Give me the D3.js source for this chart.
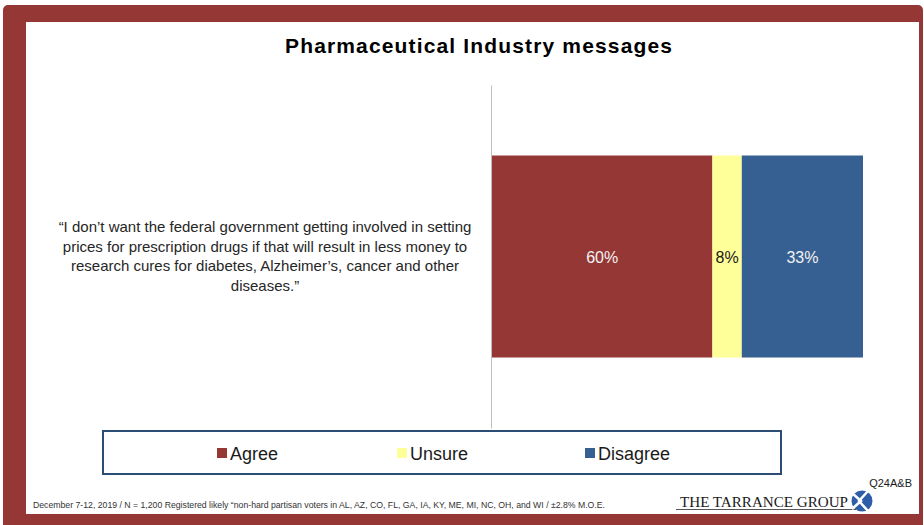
<!DOCTYPE html>
<html>
<head>
<meta charset="utf-8">
<script src="https://cdn.jsdelivr.net/npm/d3@7"></script>
<style>
  body { margin: 0; background: #fff; }
  svg { display: block; }
</style>
</head>
<body>
<div id="main"></div>
<script>
'use strict';

// data
const categories = ['Agree', 'Unsure', 'Disagree'];
const values = [60, 8, 33];
const colors = ['#953735', '#ffff99', '#376092'];
const labelColors = ['#f2f2f2', '#1a1a1a', '#f2f2f2'];
const statementLines = [
  '\u201cI don\u2019t want the federal government getting involved in setting',
  'prices for prescription drugs if that will result in less money to',
  'research cures for diabetes, Alzheimer\u2019s, cancer and other',
  'diseases.\u201d'
];
const title = 'Pharmaceutical Industry messages';
const footnote = 'December 7-12, 2019 / N = 1,200 Registered likely \u201cnon-hard partisan voters in AL, AZ, CO, FL, GA, IA, KY, ME, MI, NC, OH, and WI / \u00b12.8% M.O.E.';
const questionId = 'Q24A&B';

// configuration
const canvas = { width: 924, height: 525 };
const plot = { left: 492, right: 863, axisTop: 85, axisBottom: 428 };

const svg = d3.select('#main')
  .append('svg')
  .attr('width', canvas.width)
  .attr('height', canvas.height);

// frame
svg.append('rect')
  .attr('x', 3).attr('y', 5)
  .attr('width', 920).attr('height', 530)
  .attr('rx', 5)
  .attr('fill', '#953735');
svg.append('rect')
  .attr('x', 26).attr('y', 22)
  .attr('width', 893).attr('height', 492)
  .attr('fill', '#ffffff');

// title
svg.append('text')
  .attr('x', 285).attr('y', 53)
  .attr('font-family', 'Liberation Sans, Arial, sans-serif')
  .attr('font-weight', 'bold')
  .attr('font-size', 21)
  .attr('textLength', 387)
  .attr('lengthAdjust', 'spacing')
  .attr('fill', '#000')
  .text(title);

// stacked scale
const total = d3.sum(values);
const x = d3.scaleLinear()
  .domain([0, total])
  .range([plot.left, plot.right]);
const y = d3.scaleBand()
  .domain(['q'])
  .range([plot.axisTop, plot.axisBottom])
  .paddingInner(0)
  .paddingOuter(0.349);

const stacked = values.map((v, i) => ({
  key: categories[i],
  value: v,
  x0: d3.sum(values.slice(0, i)),
  x1: d3.sum(values.slice(0, i + 1)),
  color: colors[i],
  labelColor: labelColors[i]
}));

// axis line
svg.append('g')
  .attr('transform', 'translate(' + (plot.left - 1) + ',0)')
  .call(d3.axisLeft(y).tickSize(0).tickFormat(''))
  .call(g => g.select('.domain').attr('stroke', '#bfbfbf'));

svg.append('g')
  .selectAll('rect')
  .data(stacked)
  .enter()
  .append('rect')
  .attr('x', d => x(d.x0))
  .attr('y', y('q'))
  .attr('width', d => x(d.x1) - x(d.x0))
  .attr('height', y.bandwidth())
  .attr('fill', d => d.color);

svg.append('g')
  .selectAll('text')
  .data(stacked)
  .enter()
  .append('text')
  .attr('x', d => (x(d.x0) + x(d.x1)) / 2)
  .attr('y', y('q') + y.bandwidth() / 2 + 6)
  .attr('text-anchor', 'middle')
  .attr('font-family', 'Liberation Sans, Arial, sans-serif')
  .attr('font-size', 16)
  .attr('fill', d => d.labelColor)
  .text(d => d.value + '%');

// category label
svg.append('g')
  .selectAll('text')
  .data(statementLines)
  .enter()
  .append('text')
  .attr('x', 265)
  .attr('y', (d, i) => 232 + i * 19.6)
  .attr('text-anchor', 'middle')
  .attr('font-family', 'Liberation Sans, Arial, sans-serif')
  .attr('font-size', 15)
  .attr('fill', '#262626')
  .text(d => d);

// legend
svg.append('rect')
  .attr('x', 103).attr('y', 431)
  .attr('width', 678).attr('height', 43)
  .attr('fill', '#fff')
  .attr('stroke', '#2c4d75')
  .attr('stroke-width', 2);

const legendX = [217, 397, 585];
const legend = svg.append('g')
  .selectAll('g')
  .data(categories)
  .enter()
  .append('g')
  .attr('transform', (d, i) => 'translate(' + legendX[i] + ',453)');
legend.append('rect')
  .attr('x', 0).attr('y', -5)
  .attr('width', 10).attr('height', 10)
  .attr('fill', (d, i) => colors[i]);
legend.append('text')
  .attr('x', 13).attr('y', 6.5)
  .attr('font-family', 'Liberation Sans, Arial, sans-serif')
  .attr('font-size', 18)
  .attr('fill', '#1a1a1a')
  .text(d => d);

// footnote
svg.append('text')
  .attr('x', 33).attr('y', 508)
  .attr('font-family', 'Liberation Sans Narrow, Liberation Sans, sans-serif')
  .attr('font-size', 9.5)
  .attr('textLength', 572)
  .attr('lengthAdjust', 'spacingAndGlyphs')
  .attr('fill', '#333')
  .text(footnote);

svg.append('text')
  .attr('x', 912).attr('y', 487)
  .attr('text-anchor', 'end')
  .attr('font-family', 'Liberation Sans, Arial, sans-serif')
  .attr('font-size', 11)
  .attr('fill', '#1a1a1a')
  .text(questionId);

// logo
svg.append('text')
  .attr('x', 680).attr('y', 507)
  .attr('font-family', 'Liberation Serif, serif')
  .attr('font-size', 14)
  .attr('textLength', 168)
  .attr('lengthAdjust', 'spacingAndGlyphs')
  .attr('fill', '#1a1a1a')
  .text('THE TARRANCE GROUP');
svg.append('line')
  .attr('x1', 676).attr('x2', 856)
  .attr('y1', 509.5).attr('y2', 509.5)
  .attr('stroke', '#555').attr('stroke-width', 1);
svg.append('circle')
  .attr('cx', 862).attr('cy', 501).attr('r', 10.5)
  .attr('fill', '#2f5ea8');
svg.append('path')
  .attr('d', 'M852,493 L861,501 L852,509 M868,491 L859,501 L868,511')
  .attr('fill', 'none')
  .attr('stroke', '#fff')
  .attr('stroke-width', 2.5);
</script>
</body>
</html>
